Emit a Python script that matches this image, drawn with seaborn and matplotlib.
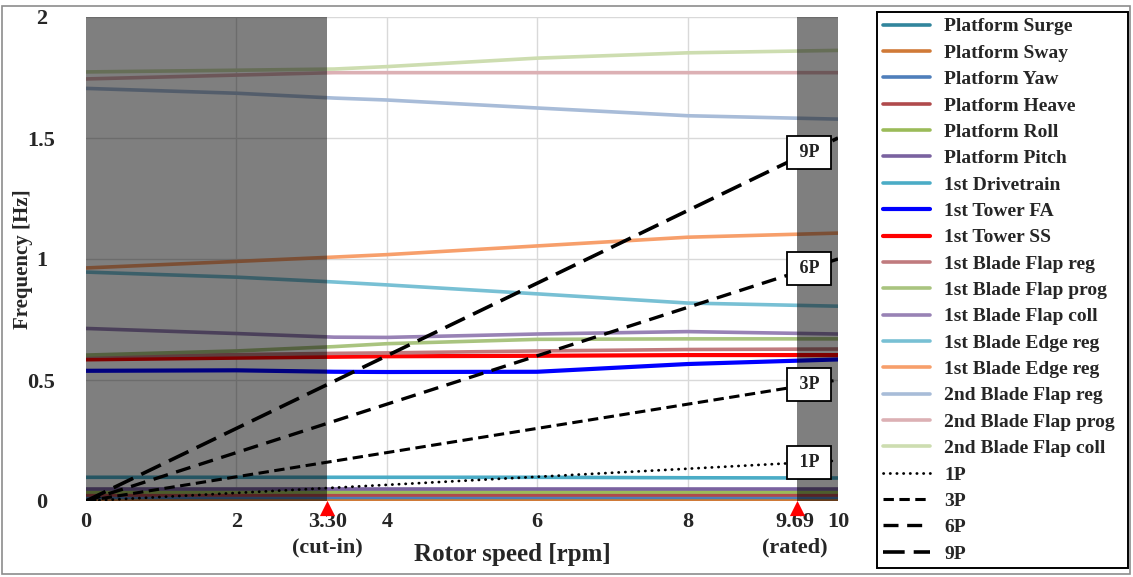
import numpy as np
import pandas as pd
import matplotlib
matplotlib.use("Agg")
import matplotlib.pyplot as plt
from matplotlib.patches import Rectangle
import seaborn as sns

# ---------------- data ----------------
rpm = [0, 2, 3.3, 4, 6, 8, 10]

mode_names = [
    "Platform Surge", "Platform Sway", "Platform Yaw", "Platform Heave",
    "Platform Roll", "Platform Pitch", "1st Drivetrain", "1st Tower FA",
    "1st Tower SS", "1st Blade Flap reg", "1st Blade Flap prog",
    "1st Blade Flap coll", "1st Blade Edge reg", "1st Blade Edge reg",
    "2nd Blade Flap reg", "2nd Blade Flap prog", "2nd Blade Flap coll",
]

platform_surge = [0.007, 0.007, 0.007, 0.007, 0.007, 0.007, 0.007]
platform_sway = [0.001, 0.001, 0.001, 0.001, 0.001, 0.001, 0.001]
platform_yaw = [0.015, 0.015, 0.015, 0.015, 0.015, 0.015, 0.015]
platform_heave = [0.025, 0.025, 0.025, 0.025, 0.025, 0.025, 0.025]
platform_roll = [0.036, 0.036, 0.036, 0.036, 0.036, 0.036, 0.036]
platform_pitch = [0.048, 0.048, 0.048, 0.048, 0.048, 0.048, 0.048]
drivetrain_1st = [0.098, 0.098, 0.098, 0.098, 0.098, 0.096, 0.095]
tower_fa_1st = [0.538, 0.540, 0.534, 0.533, 0.534, 0.566, 0.585]
tower_ss_1st = [0.585, 0.592, 0.596, 0.598, 0.600, 0.603, 0.603]
flap_reg_1st = [0.598, 0.605, 0.610, 0.612, 0.620, 0.626, 0.628]
flap_prog_1st = [0.603, 0.620, 0.638, 0.650, 0.668, 0.670, 0.670]
flap_coll_1st = [0.713, 0.692, 0.677, 0.676, 0.690, 0.700, 0.690]
edge_reg_1st_a = [0.946, 0.925, 0.905, 0.893, 0.856, 0.818, 0.805]
edge_reg_1st_b = [0.963, 0.990, 1.008, 1.018, 1.054, 1.090, 1.107]
flap_reg_2nd = [1.705, 1.685, 1.665, 1.657, 1.624, 1.592, 1.578]
flap_prog_2nd = [1.744, 1.760, 1.770, 1.770, 1.770, 1.770, 1.770]
flap_coll_2nd = [1.773, 1.780, 1.785, 1.795, 1.830, 1.852, 1.862]

mode_values = [
    platform_surge, platform_sway, platform_yaw, platform_heave,
    platform_roll, platform_pitch, drivetrain_1st, tower_fa_1st,
    tower_ss_1st, flap_reg_1st, flap_prog_1st, flap_coll_1st,
    edge_reg_1st_a, edge_reg_1st_b, flap_reg_2nd, flap_prog_2nd,
    flap_coll_2nd,
]

mode_colors = [
    "#31859c", "#d07a38", "#4f7fbb", "#b04a4c", "#9bbb59", "#7a62a0",
    "#4bacc6", "#0000ff", "#ff0000", "#c07b7e", "#a9c47f", "#9882b5",
    "#78c0d4", "#f79f6b", "#a8bcd8", "#dcb0b4", "#cdddb0",
]

harm_rpm = [0, 10]
harm_names = ["1P", "3P", "6P", "9P"]
harm_1p = [0, 0.1667]
harm_3p = [0, 0.5]
harm_6p = [0, 1.0]
harm_9p = [0, 1.5]
harm_values = [harm_1p, harm_3p, harm_6p, harm_9p]

# where the cut-in / rated markers sit on the drawn axis, and their labels
cut_in_mark = 3.21
rated_mark = 9.45
harm_label_x = 9.61
xtick_values = [0, 2, 3.21, 4, 6, 8, 9.42, 10]
xtick_labels = ["0", "2", "3.30\n(cut-in)", "4", "6", "8", "9.69\n(rated)", "10"]
ytick_values = [0, 0.5, 1, 1.5, 2]
ytick_labels = ["0", "0.5", "1", "1.5", "2"]

# ---------------- style ----------------
sns.set_theme(style="white")
plt.rcParams["font.family"] = ["Liberation Serif", "DejaVu Serif"]
plt.rcParams["font.weight"] = "bold"

W, H = 1133, 577
fig = plt.figure(figsize=(W / 100, H / 100), dpi=100, facecolor="white")
ax = fig.add_axes([86 / W, 1 - 501 / H, (838 - 86) / W, (501 - 17) / H])
ax.set_facecolor("white")

harm_styles = [
    dict(lw=2.0, linestyle=(0, (0.1, 2.3)), dash_capstyle="round"),
    dict(lw=2.2, linestyle=(0, (3.4, 1.8))),
    dict(lw=2.4, linestyle=(0, (4.5, 2.6))),
    dict(lw=2.6, linestyle=(0, (6.0, 2.5))),
]

for name, vals, col in zip(mode_names, mode_values, mode_colors):
    lw = 3.0 if col in ("#0000ff", "#ff0000") else 2.6
    sns.lineplot(x=rpm, y=vals, color=col, lw=lw, label=name, ax=ax,
                 estimator=None, sort=False, zorder=2)

for name, vals, st in zip(harm_names, harm_values, harm_styles):
    sns.lineplot(x=harm_rpm, y=vals, color="black", label=name, ax=ax,
                 estimator=None, sort=False, zorder=4, **st)

# shaded (non-operating) ranges
ax.axvspan(0, cut_in_mark, color="black", alpha=0.5, lw=0, zorder=3)
ax.axvspan(rated_mark, 10, color="black", alpha=0.5, lw=0, zorder=3)

# harmonic label boxes
for name, vals in zip(harm_names, harm_values):
    yv = np.interp(harm_label_x, harm_rpm, vals)
    ax.text(harm_label_x, yv, f" {name} ", ha="center", va="center", fontsize=13,
            fontweight="bold", color="#222222", zorder=6,
            bbox=dict(boxstyle="square,pad=0.45", fc="white", ec="black", lw=1.3))

# red triangles at cut-in / rated
ax.scatter([cut_in_mark, rated_mark], [-0.03, -0.03], marker="^", s=120,
           color="#ff0000", clip_on=False, zorder=7, lw=0)

ax.set_xlim(0, 10)
ax.set_ylim(0, 2)
ax.set_xticks(xtick_values)
ax.set_xticklabels(xtick_labels)
ax.set_yticks(ytick_values)
ax.set_yticklabels(ytick_labels)
ax.xaxis.remove_overlapping_locs = False
ax.set_xticks([2, 4, 6, 8], minor=True)
ax.tick_params(axis="both", which="both", length=0)
ax.tick_params(axis="x", which="major", pad=8, labelsize=16)
ax.tick_params(axis="y", which="major", pad=32, labelsize=16)
for t in ax.get_xticklabels():
    t.set_linespacing(1.35)
    t.set_fontweight("bold")
for t in ax.get_yticklabels():
    t.set_ha("center")
    t.set_fontweight("bold")

ax.grid(False)
ax.grid(True, axis="y", which="major", color="#d9d9d9", lw=1, zorder=1)
ax.grid(True, axis="x", which="minor", color="#d9d9d9", lw=1, zorder=1)
ax.set_axisbelow(True)
for s in ax.spines.values():
    s.set_visible(False)

ax.set_xlabel("Rotor speed [rpm]", fontsize=18, fontweight="bold")
ax.xaxis.set_label_coords((512 - 86) / 752, -(554 - 501) / 484)
ax.xaxis.label.set_va("center")
ax.set_ylabel("Frequency [Hz]", fontsize=15, fontweight="bold")
ax.yaxis.set_label_coords(-(86 - 23) / 752, 0.5)
ax.yaxis.label.set_va("center")

handles, labels = ax.get_legend_handles_labels()
leg = fig.legend(handles, labels, loc="upper left",
                 bbox_to_anchor=(877 / W, 1 - 12 / H, (1128 - 877) / W, 0.0),
                 mode="expand", borderaxespad=0, frameon=True,
                 fancybox=False, edgecolor="black", framealpha=1,
                 handlelength=2.4, handletextpad=0.75, labelspacing=0.45,
                 borderpad=0.3, prop=dict(weight="bold", size=14))
leg.get_frame().set_linewidth(1.4)
if ax.get_legend() is not None:
    ax.get_legend().remove()

fig.patches.append(Rectangle((2 / W, 3 / H), (W - 5) / W, (H - 9) / H,
                             transform=fig.transFigure, fill=False,
                             ec="#8c8c8c", lw=1.2))

fig.savefig("out.png", dpi=100, facecolor="white")
